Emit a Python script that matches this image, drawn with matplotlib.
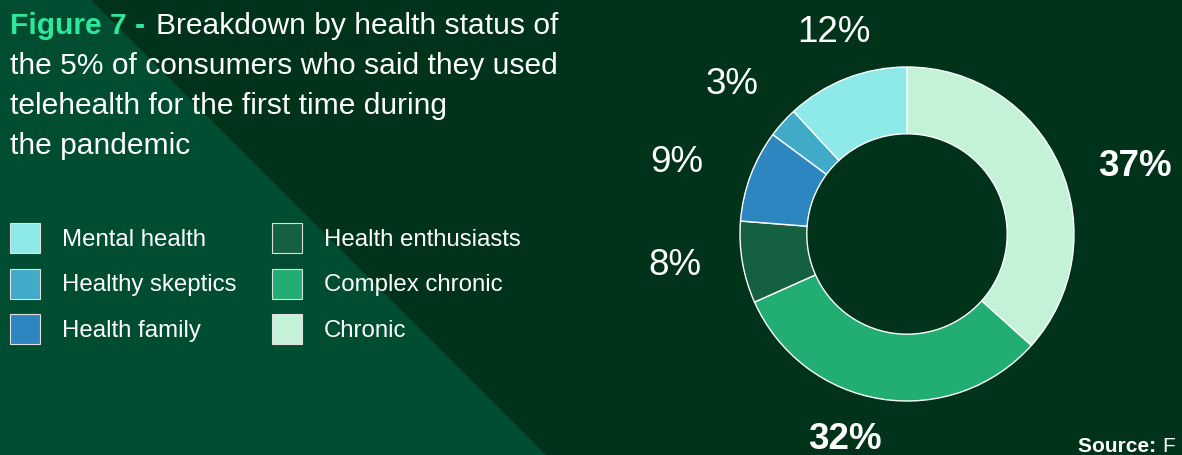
import numpy as np
import matplotlib.pyplot as plt
from matplotlib.patches import Polygon, Rectangle

plt.rcParams['font.family'] = ['Liberation Sans', 'DejaVu Sans']

# segments, clockwise from 12 o'clock
segments = ["Chronic", "Complex chronic", "Health enthusiasts",
            "Health family", "Healthy skeptics", "Mental health"]
shares = [37, 32, 8, 9, 3, 12]
colors = ["#c4f2d6", "#22ae72", "#156040", "#2e86c1", "#40abc9", "#8eeae8"]

# legend order: two columns of three
legend_items = ["Mental health", "Healthy skeptics", "Health family",
                "Health enthusiasts", "Complex chronic", "Chronic"]

title_lines = ["the 5% of consumers who said they used",
               "telehealth for the first time during",
               "the pandemic"]

BG_DARK = "#00331a"
BG_LIGHT = "#004d32"
ACCENT = "#2de89a"

W, H = 1182, 456
fig = plt.figure(figsize=(W / 100, H / 100), dpi=100, facecolor=BG_DARK)

# background layer in pixel units
bg = fig.add_axes([0, 0, 1, 1])
bg.set_xlim(0, W)
bg.set_ylim(H, 0)
bg.axis('off')
bg.add_patch(Polygon([(0, 0), (90, 0), (546, H), (0, H)],
                     closed=True, color=BG_LIGHT, lw=0))

# title
TS = 21.6
t1 = bg.text(10, 34, "Figure 7 -", fontsize=TS, fontweight='bold',
             color=ACCENT, va='baseline')
fig.canvas.draw()
bb = t1.get_window_extent()
x2 = bb.x1 * W / fig.bbox.width + 11
bg.text(x2, 34, "Breakdown by health status of", fontsize=TS,
        color='white', va='baseline')
for i, line in enumerate(title_lines):
    bg.text(10, 74 + 40 * i, line, fontsize=TS, color='white',
            va='baseline')

# legend
for i, name in enumerate(legend_items):
    col, row = divmod(i, 3)
    x0 = 10 + 262 * col
    yc = 239 + 45.5 * row
    c = colors[segments.index(name)]
    bg.add_patch(Rectangle((x0, yc - 15), 30, 30, facecolor=c,
                           edgecolor='#e0e0e0', lw=0.8))
    bg.text(x0 + 52, yc + 1, name, fontsize=17.3, color='white',
            va='center', ha='left')

# source line, runs off the right edge
src = bg.text(1078, 452, "Source: ", fontsize=15, fontweight='bold',
              color='white', va='baseline')
fig.canvas.draw()
sx = src.get_window_extent().x1 * W / fig.bbox.width
bg.text(sx, 452, "F", fontsize=15, color='white', va='baseline',
        clip_on=False)

# donut
cx, cy, r = 907, 235, 167
ax = fig.add_axes([(cx - r) / W, (H - cy - r) / H, 2 * r / W, 2 * r / H])
wedges, _ = ax.pie(shares, colors=colors, startangle=90, counterclock=False,
                   radius=1, wedgeprops=dict(width=0.4, edgecolor='white',
                                             linewidth=1))
ax.set_xlim(-1, 1)
ax.set_ylim(-1, 1)
ax.axis('off')

# percentage labels: radial distance and angular nudge (deg) per segment
label_dist = [1.43, 1.255, 1.40, 1.45, 1.40, 1.31]
label_nudge = [-6.5, -8.3, -3.4, 2.2, 0.5, -2.0]
for w, v, d, n in zip(wedges, shares, label_dist, label_nudge):
    ang = np.deg2rad((w.theta1 + w.theta2) / 2 + n)
    ax.text(d * np.cos(ang), d * np.sin(ang), f"{v}%", fontsize=26.5,
            color='white', fontweight='bold' if v >= 30 else 'normal',
            ha='center', va='center_baseline', clip_on=False)

fig.savefig("out.png", dpi=100, facecolor=BG_DARK)
